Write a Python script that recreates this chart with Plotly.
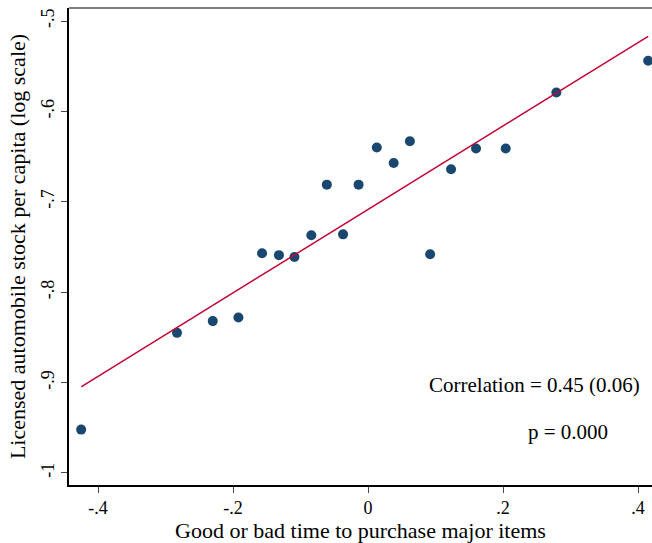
import numpy as np
import plotly.graph_objects as go

# data
x_vals = [-0.425, -0.283, -0.230, -0.192, -0.157, -0.132, -0.109, -0.084, -0.061, -0.037,
          -0.014, 0.013, 0.038, 0.062, 0.092, 0.123, 0.160, 0.204, 0.279, 0.415]
y_vals = [-0.952, -0.845, -0.832, -0.828, -0.757, -0.759, -0.761, -0.737, -0.681, -0.736,
          -0.681, -0.640, -0.657, -0.633, -0.758, -0.664, -0.641, -0.641, -0.579, -0.544]
x_ticks = [-0.4, -0.2, 0, 0.2, 0.4]
x_ticklabels = ["-.4", "-.2", "0", ".2", ".4"]
y_ticks = [-1, -0.9, -0.8, -0.7, -0.6, -0.5]
y_ticklabels = ["-1", "-.9", "-.8", "-.7", "-.6", "-.5"]

xa = np.array(x_vals)
ya = np.array(y_vals)
slope, intercept = np.polyfit(xa, ya, 1)
fx = np.array([xa.min(), xa.max()])
fy = intercept + slope * fx

FONT = "Liberation Serif"

fig = go.Figure()
fig.add_trace(go.Scatter(x=x_vals, y=y_vals, mode="markers",
                         marker=dict(color="#1a476f", size=10, line=dict(width=0)),
                         cliponaxis=False, showlegend=False))
fig.add_trace(go.Scatter(x=fx, y=fy, mode="lines",
                         line=dict(color="#c10534", width=1.5), showlegend=False))

fig.update_layout(
    width=652, height=543,
    margin=dict(l=69, r=0, t=8, b=58),
    paper_bgcolor="white", plot_bgcolor="white",
    font=dict(family=FONT, size=18, color="black"),
    xaxis=dict(range=[-0.443, 0.4207], tickvals=x_ticks, ticktext=x_ticklabels,
               showgrid=False, zeroline=False, showline=True, linecolor="black", linewidth=1.5,
               ticks="outside", ticklen=6, tickcolor="#444", tickwidth=1,
               title=dict(text="Good or bad time to purchase major items", standoff=2),
               tickfont=dict(size=18)),
    yaxis=dict(range=[-1.0133, -0.4856], tickvals=y_ticks, ticktext=y_ticklabels,
               showgrid=False, zeroline=False, showline=True, linecolor="black", linewidth=1.5,
               ticks="outside", ticklen=6, tickcolor="#444", tickwidth=1, tickangle=-90,
               title=dict(text="Licensed automobile stock per capita (log scale)", standoff=6),
               tickfont=dict(size=18)),
    shapes=[dict(type="line", xref="paper", yref="paper", x0=0, x1=1, y0=1, y1=1,
                 line=dict(color="#555", width=1.5))],
    annotations=[
        dict(x=0.246, y=-0.9027, xref="x", yref="y", text="Correlation = 0.45 (0.06)",
             showarrow=False, xanchor="center", yanchor="middle", font=dict(size=21)),
        dict(x=0.2956, y=-0.9546, xref="x", yref="y", text="p = 0.000",
             showarrow=False, xanchor="center", yanchor="middle", font=dict(size=21)),
    ],
)
fig.write_html("out.html")
